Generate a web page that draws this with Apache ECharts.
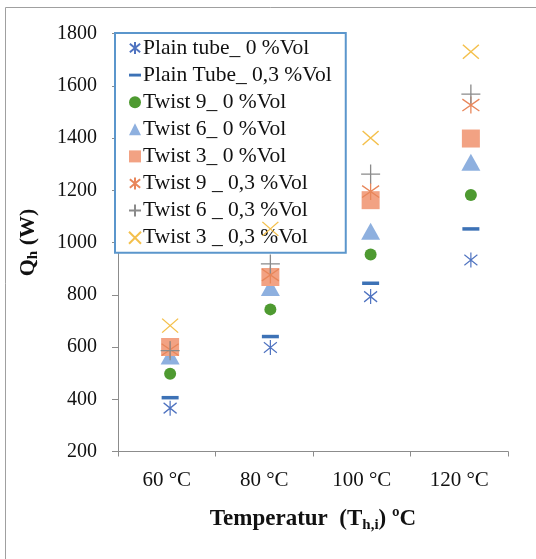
<!DOCTYPE html>
<html>
<head>
<meta charset="utf-8">
<script src="https://cdn.jsdelivr.net/npm/echarts@6/dist/echarts.min.js"></script>
<style>html,body{margin:0;padding:0;background:#fff}#c{width:536px;height:559px}</style>
</head>
<body>
<div id="c"></div>
<script>
const categories = ['60 °C', '80 °C', '100 °C', '120 °C'];
const yTicks = [200, 400, 600, 800, 1000, 1200, 1400, 1600, 1800];
const seriesNames = ['Plain tube_ 0 %Vol', 'Plain Tube_ 0,3 %Vol', 'Twist 9_ 0 %Vol', 'Twist 6_ 0 %Vol', 'Twist 3_ 0 %Vol', 'Twist 9 _ 0,3 %Vol', 'Twist 6 _ 0,3 %Vol', 'Twist 3 _ 0,3 %Vol'];
const plainTube0 = [366, 598, 793, 933];
const plainTube03 = [406, 640, 844, 1052];
const twist9_0 = [498, 744, 954, 1182];
const twist6_0 = [566, 828, 1043, 1307];
const twist3_0 = [600, 868, 1162, 1398];
const twist9_03 = [590, 876, 1195, 1526];
const twist6_03 = [586, 918, 1262, 1568];
const twist3_03 = [682, 1052, 1400, 1730];

const ASTER = 'path://M5,0L5,10M0.7,1.5L9.3,8.5M0.7,8.5L9.3,1.5';
const PLUS = 'path://M5,0L5,10M0,5L10,5';
const CROSS = 'path://M0,0L10,10M0,10L10,0';
const DASH_ICON = 'path://M0,0M0,3.8L10,3.8L10,6.2L0,6.2ZM10,10';

const serif = 'Liberation Serif';
const specs = [
  {data: plainTube0, symbol: ASTER, size: [13, 15], color: '#4F73C0', line: true, icon: ASTER},
  {data: plainTube03, symbol: 'rect', size: [17, 3.5], color: '#3D72B6', line: false, icon: DASH_ICON},
  {data: twist9_0, symbol: 'circle', size: 12, color: '#4E9A31', line: false, icon: 'circle'},
  {data: twist6_0, symbol: 'triangle', size: [19, 17], color: '#8EB0DF', line: false, icon: 'triangle'},
  {data: twist3_0, symbol: 'rect', size: 18, color: '#F2A283', line: false, icon: 'rect'},
  {data: twist9_03, symbol: ASTER, size: [17, 17], color: '#E8865A', line: true, icon: ASTER},
  {data: twist6_03, symbol: PLUS, size: [19, 19], color: '#8A8A8A', line: true, icon: PLUS},
  {data: twist3_03, symbol: CROSS, size: [16, 14], color: '#F4C04C', line: true, icon: CROSS}
];

const series = specs.map((s, i) => ({
  name: seriesNames[i],
  type: 'scatter',
  xAxisIndex: 1,
  yAxisIndex: 1,
  data: s.data,
  symbol: s.symbol,
  symbolSize: s.size,
  z: 2 + i,
  itemStyle: s.line ? {color: s.color, borderColor: s.color, borderWidth: 1.3, opacity: 1} : {color: s.color, borderWidth: 0, opacity: 1},
  emphasis: {disabled: true}
}));

const yMin = yTicks[0], yMax = yTicks[yTicks.length - 1];
const chart = echarts.init(document.getElementById('c'), null, {renderer: 'canvas'});
chart.setOption({
  animation: false,
  backgroundColor: '#fff',
  grid: [
    {left: 118, right: 28, top: 33.5, bottom: 107.5, containLabel: false},
    {left: 120, right: 15, top: 33.5, bottom: 107.5, containLabel: false}
  ],
  graphic: [
    {type: 'line', shape: {x1: 5.5, y1: 7.5, x2: 5.5, y2: 559}, style: {stroke: '#a0a0a0', lineWidth: 1}, z: 0},
    {type: 'line', shape: {x1: 5.5, y1: 7.5, x2: 536, y2: 7.5}, style: {stroke: '#a0a0a0', lineWidth: 1}, z: 0}
  ],
  legend: {
    orient: 'vertical',
    left: 115,
    top: 33,
    data: specs.map((s, i) => ({name: seriesNames[i], icon: s.icon})),
    itemWidth: 12,
    itemHeight: 12,
    itemGap: 5.1,
    padding: [4, 14, 4, 13],
    borderColor: '#5B96CC',
    borderWidth: 2,
    backgroundColor: '#fff',
    textStyle: {fontFamily: serif, fontSize: 21.5, color: '#111', padding: [0, 0, 0, -3]},
    selectedMode: false,
    z: 1
  },
  xAxis: [{
    type: 'category',
    gridIndex: 0,
    data: categories,
    axisLine: {lineStyle: {color: '#8c8c8c', width: 1}},
    axisTick: {show: true, length: 5, lineStyle: {color: '#8c8c8c'}},
    axisLabel: {fontFamily: serif, fontSize: 21, color: '#111', margin: 18},
    splitLine: {show: false},
    name: '{b|Temperatur  (T}{s|h,i}{b|) ºC}',
    nameLocation: 'middle',
    nameGap: 55,
    nameTextStyle: {
      rich: {
        b: {fontFamily: serif, fontSize: 23, fontWeight: 'bold', color: '#111'},
        s: {fontFamily: serif, fontSize: 15, fontWeight: 'bold', color: '#111', padding: [11, 0, 0, 0]}
      }
    }
  }, {
    type: 'category',
    gridIndex: 1,
    data: categories,
    show: false
  }],
  yAxis: [{
    type: 'value',
    gridIndex: 0,
    min: yMin,
    max: yMax,
    interval: 200,
    axisLine: {show: true, lineStyle: {color: '#8c8c8c', width: 1}},
    axisTick: {show: true, length: 6, lineStyle: {color: '#8c8c8c'}},
    axisLabel: {fontFamily: serif, fontSize: 20, color: '#111', margin: 21, formatter: v => String(v)},
    splitLine: {show: false},
    name: '{b|Q}{s|h}{b| (W)}',
    nameLocation: 'middle',
    nameGap: 77,
    nameRotate: 90,
    nameTextStyle: {
      rich: {
        b: {fontFamily: serif, fontSize: 22, fontWeight: 'bold', color: '#111'},
        s: {fontFamily: serif, fontSize: 15, fontWeight: 'bold', color: '#111', padding: [11, 0, 0, 0]}
      }
    }
  }, {
    type: 'value',
    gridIndex: 1,
    min: yMin,
    max: yMax,
    interval: 200,
    show: false
  }],
  series: series
});
</script>
</body>
</html>
